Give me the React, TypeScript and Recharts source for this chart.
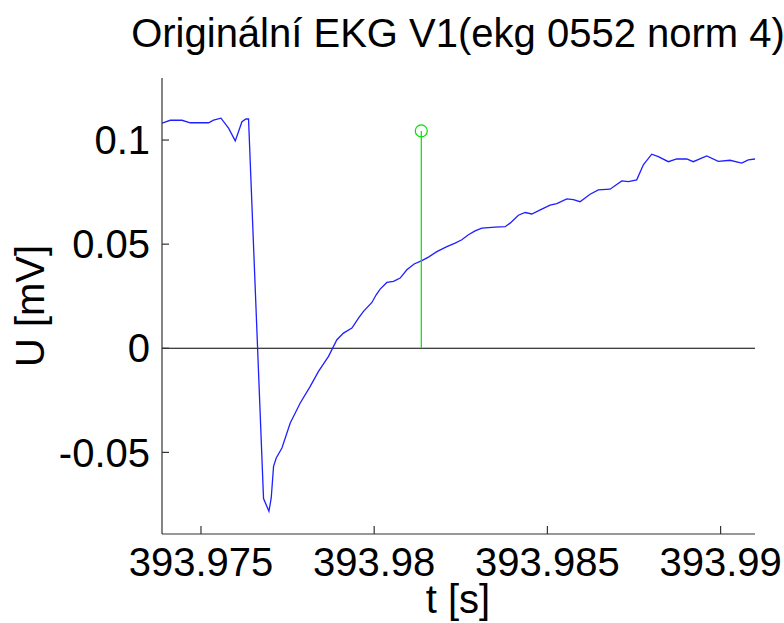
import { LineChart, Line, XAxis, YAxis, ReferenceLine } from "recharts";

// time axis (s) at its visible kinks
const timeS = [
  393.973875, 393.974114, 393.974452, 393.974691, 393.975219, 393.975364, 393.975577, 393.975796,
  393.97599, 393.976183, 393.976298, 393.976373, 393.976806, 393.976962, 393.977028, 393.977095,
  393.977173, 393.977337, 393.977577, 393.977865, 393.978154, 393.978393, 393.978682, 393.978924,
  393.979114, 393.979357, 393.979547, 393.979691, 393.979934, 393.980058, 393.980173, 393.980366,
  393.980557, 393.98075, 393.980943, 393.981154, 393.981376, 393.981567, 393.981809, 393.982098,
  393.982337, 393.98253, 393.982721, 393.982914, 393.983107, 393.983491, 393.98378, 393.983924,
  393.984163, 393.984357, 393.98455, 393.984838, 393.985078, 393.985271, 393.98556, 393.98575,
  393.985943, 393.986232, 393.986471, 393.986809, 393.987147, 393.987337, 393.987579, 393.98777,
  393.988012, 393.988203, 393.988491, 393.988733, 393.989022, 393.989212, 393.989599, 393.989934,
  393.990271, 393.990609, 393.990799, 393.990993,
];

// U (mV)
const voltageMV = [
  0.1081, 0.1095, 0.1095, 0.1083, 0.1083, 0.1096, 0.1105, 0.1057,
  0.0996, 0.1088, 0.1101, 0.1101, -0.0722, -0.0783, -0.0719, -0.0567,
  -0.0527, -0.0479, -0.0359, -0.0263, -0.0183, -0.0111, -0.0039, 0.0041,
  0.0073, 0.0097, 0.0145, 0.0177, 0.022, 0.0257, 0.0284, 0.0316,
  0.0321, 0.0337, 0.0377, 0.0405, 0.0421, 0.0438, 0.0464, 0.0488,
  0.0505, 0.0521, 0.0545, 0.0564, 0.0577, 0.0582, 0.0584, 0.0601,
  0.0639, 0.0652, 0.0645, 0.0668, 0.0687, 0.0695, 0.0717, 0.0714,
  0.0704, 0.074, 0.0761, 0.0764, 0.0804, 0.08, 0.0809, 0.0881,
  0.0932, 0.092, 0.0896, 0.0909, 0.0909, 0.0896, 0.0924, 0.0898,
  0.0903, 0.0889, 0.0905, 0.0909,
];

// green stem marker
const markerTime = [393.98136, 393.98136];
const markerValue = [0, 0.1044];

const xTicks = [393.975, 393.98, 393.985, 393.99];
const yTicks = [-0.05, 0, 0.05, 0.1];

const ekgData = timeS.map((t, i) => ({ t, v: voltageMV[i] }));
const stemData = markerTime.map((t, i) => ({ t, v: markerValue[i] }));

const font = "'Liberation Sans', Arial, sans-serif";

const XTick = ({ x, y, payload }: any) => (
  <g>
    <line x1={x} y1={y} x2={x} y2={y - 8} stroke="#333" strokeWidth={1.2} />
    <text x={x} y={576} textAnchor="middle" fontSize={40} fontFamily={font} fill="#000">
      {String(payload.value)}
    </text>
  </g>
);

const YTick = ({ x, y, payload }: any) => (
  <g>
    <line x1={x} y1={y} x2={x + 7} y2={y} stroke="#333" strokeWidth={1.2} />
    <text x={x - 12} y={y} dy="0.355em" textAnchor="end" fontSize={40} fontFamily={font} fill="#000">
      {String(payload.value)}
    </text>
  </g>
);

const StemDot = (props: any) => {
  const { cx, cy, index } = props;
  if (index !== 1) return <g key={"d" + index} />;
  return <circle key={"d" + index} cx={cx} cy={cy} r={6} fill="none" stroke="#00e000" strokeWidth={1.2} />;
};

export default function App() {
  return (
    <div style={{ position: "absolute", left: 0, top: 0, width: 784, height: 623, background: "#fff" }}>
      <LineChart width={784} height={623} margin={{ top: 78, right: 29, bottom: 0, left: 0 }}>
        <XAxis
          dataKey="t"
          type="number"
          domain={[393.973875, 393.990993]}
          allowDataOverflow
          ticks={xTicks}
          interval={0}
          height={89}
          tickSize={0}
          tickMargin={0}
          axisLine={{ stroke: "#333", strokeWidth: 1.2 }}
          tickLine={false}
          tick={<XTick />}
        />
        <YAxis
          type="number"
          domain={[-0.0892, 0.1298]}
          allowDataOverflow
          ticks={yTicks}
          interval={0}
          width={162}
          tickSize={0}
          tickMargin={0}
          axisLine={{ stroke: "#333", strokeWidth: 1.2 }}
          tickLine={false}
          tick={<YTick />}
        />
        <ReferenceLine y={0} stroke="#000" strokeWidth={1.2} />
        <Line
          data={ekgData}
          dataKey="v"
          type="linear"
          stroke="#1f1fff"
          strokeWidth={1.3}
          dot={false}
          isAnimationActive={false}
        />
        <Line
          data={stemData}
          dataKey="v"
          type="linear"
          stroke="#00e000"
          strokeWidth={1.2}
          dot={StemDot}
          isAnimationActive={false}
        />
      </LineChart>
      <svg
        width={784}
        height={623}
        style={{ position: "absolute", left: 0, top: 0, pointerEvents: "none" }}
      >
        <text x={458} y={47} textAnchor="middle" fontSize={40} fontFamily={font} fill="#000">
          Originální EKG V1(ekg 0552 norm 4)
        </text>
        <text x={458} y={613} textAnchor="middle" fontSize={40} fontFamily={font} fill="#000">
          t [s]
        </text>
        <text
          x={44}
          y={306}
          textAnchor="middle"
          fontSize={40}
          fontFamily={font}
          fill="#000"
          transform="rotate(-90 44 306)"
        >
          U [mV]
        </text>
      </svg>
    </div>
  );
}
